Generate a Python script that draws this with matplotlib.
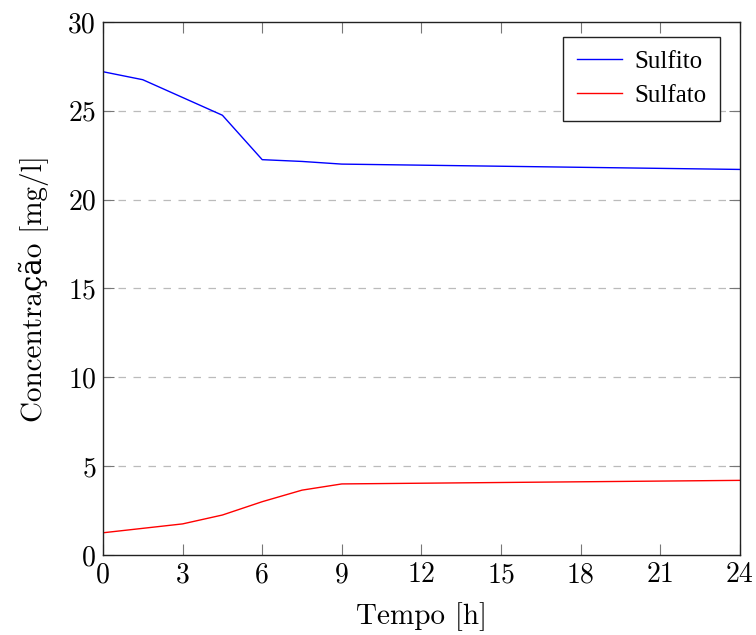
import matplotlib
matplotlib.use("Agg")
import matplotlib.pyplot as plt

# readings from the reference
tempo = [0, 1.5, 3, 4.5, 6, 7.5, 9, 24]
sulfito = [27.2, 26.75, 25.75, 24.75, 22.25, 22.15, 22.0, 21.7]
sulfato = [1.25, 1.5, 1.75, 2.25, 3.0, 3.65, 4.0, 4.2]
xticks = list(range(0, 25, 3))
yticks = list(range(0, 31, 5))

CM = ["cmr10", "DejaVu Serif"]

fig = plt.figure(figsize=(7.56, 6.35), dpi=100)
ax = fig.add_axes([0.1362, 0.126, 0.8426, 0.8394])

ax.plot(tempo, sulfito, color="blue", lw=1.0, label="Sulfito")
ax.plot(tempo, sulfato, color="red", lw=1.0, label="Sulfato")

ax.set_xlim(0, 24); ax.set_ylim(0, 30)
ax.set_xticks(xticks); ax.set_yticks(yticks)
ax.set_xticklabels([str(v) for v in xticks], family=CM, fontsize=20)
ax.set_yticklabels([str(v) for v in yticks], family=CM, fontsize=20)
for v in yticks[1:-1]:
    ax.axhline(v, color="#bbbbbb", lw=0.9, ls=(0, (6, 6)), zorder=0)

ax.tick_params(direction="in", length=8, width=0.8, color="#777777",
               top=True, right=True, pad=5)
for s in ax.spines.values():
    s.set_linewidth(1.0)
    s.set_color("#222222")

ax.set_xlabel("Tempo [h]", family=CM, fontsize=21, labelpad=10)
ax.set_ylabel("Concentração [mg/l]", family=CM, fontsize=21, labelpad=14)

leg = ax.legend(loc="upper right", bbox_to_anchor=(0.969, 0.972),
                prop={"family": "Liberation Serif", "size": 18},
                fancybox=False, framealpha=1, edgecolor="#222222",
                handlelength=1.8, handletextpad=0.5, borderpad=0.55,
                labelspacing=0.45, borderaxespad=0)
leg.get_frame().set_linewidth(1.0)

fig.savefig("out.png", dpi=100, facecolor="white")
